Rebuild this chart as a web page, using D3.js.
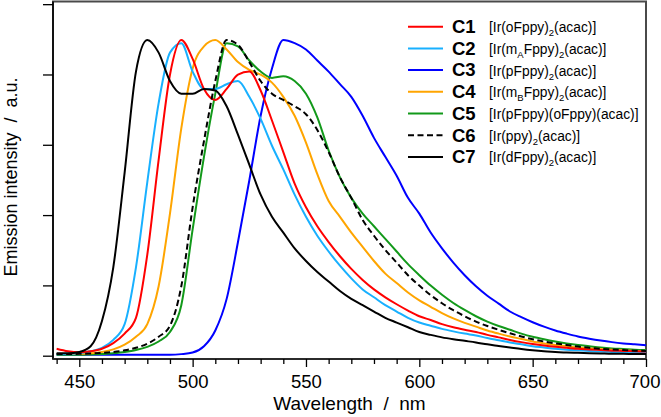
<!DOCTYPE html>
<html lang="en">
<head>
<meta charset="UTF-8">
<title>Emission spectra</title>
<script src="https://d3js.org/d3.v7.min.js"></script>
<style>
  body { margin: 0; background: #fff; }
  svg { display: block; font-family: "Liberation Sans", Arial, sans-serif; }
</style>
</head>
<body>
<svg id="chart" width="661" height="417"></svg>
<script>
// wavelengths (nm) shared by every spectrum
const wavelength = [440, 445, 450, 455, 460, 465, 470, 475, 480, 485, 490, 495, 500, 505, 510, 515, 520, 525, 530, 535,
  540, 545, 550, 555, 560, 565, 570, 575, 580, 585, 590, 595, 600, 605, 610, 615, 620, 625, 630, 635,
  640, 645, 650, 655, 660, 665, 670, 675, 680, 685, 690, 695, 700];

// normalised emission intensity
const c1 = [0.022, 0.014, 0.011, 0.014, 0.022, 0.04, 0.07, 0.12, 0.32, 0.62, 0.89, 1.0, 0.94, 0.845, 0.81, 0.845, 0.89, 0.9, 0.84, 0.745,
  0.645, 0.545, 0.47, 0.41, 0.36, 0.315, 0.275, 0.24, 0.21, 0.185, 0.163, 0.143, 0.125, 0.113, 0.1, 0.09, 0.082, 0.075, 0.066, 0.058,
  0.05, 0.043, 0.037, 0.032, 0.028, 0.025, 0.022, 0.02, 0.018, 0.016, 0.015, 0.014, 0.013];
const c2 = [0.005, 0.006, 0.008, 0.014, 0.025, 0.05, 0.1, 0.28, 0.55, 0.8, 0.96, 0.99, 0.9, 0.845, 0.845, 0.86, 0.87, 0.82, 0.75, 0.665,
  0.59, 0.51, 0.44, 0.38, 0.33, 0.285, 0.245, 0.21, 0.185, 0.16, 0.14, 0.12, 0.105, 0.095, 0.085, 0.077, 0.07, 0.064, 0.056, 0.049,
  0.042, 0.036, 0.03, 0.026, 0.022, 0.019, 0.017, 0.015, 0.013, 0.012, 0.011, 0.01, 0.01];
const c3 = [0.003, 0.003, 0.003, 0.003, 0.003, 0.003, 0.003, 0.003, 0.003, 0.003, 0.003, 0.005, 0.01, 0.03, 0.08, 0.18, 0.36, 0.555, 0.76, 0.91,
  1.0, 0.99, 0.97, 0.935, 0.9, 0.86, 0.82, 0.76, 0.69, 0.63, 0.57, 0.5, 0.45, 0.39, 0.34, 0.295, 0.255, 0.22, 0.19, 0.165,
  0.14, 0.122, 0.106, 0.092, 0.08, 0.07, 0.061, 0.054, 0.048, 0.043, 0.039, 0.036, 0.033];
const c4 = [0.005, 0.005, 0.006, 0.008, 0.012, 0.02, 0.035, 0.06, 0.1, 0.22, 0.45, 0.72, 0.91, 0.98, 1.0, 0.97, 0.93, 0.905, 0.89, 0.865,
  0.82, 0.76, 0.675, 0.575, 0.49, 0.44, 0.39, 0.345, 0.3, 0.26, 0.23, 0.2, 0.175, 0.155, 0.135, 0.118, 0.104, 0.092, 0.08, 0.07,
  0.061, 0.053, 0.045, 0.039, 0.034, 0.03, 0.026, 0.023, 0.021, 0.019, 0.017, 0.015, 0.014];
const c5 = [0.003, 0.003, 0.003, 0.004, 0.005, 0.008, 0.012, 0.018, 0.028, 0.045, 0.075, 0.16, 0.4, 0.63, 0.83, 0.99, 0.98, 0.935, 0.9, 0.88,
  0.885, 0.87, 0.83, 0.755, 0.65, 0.565, 0.5, 0.45, 0.41, 0.37, 0.33, 0.29, 0.255, 0.222, 0.193, 0.167, 0.145, 0.125, 0.108, 0.094,
  0.082, 0.07, 0.06, 0.052, 0.045, 0.039, 0.034, 0.03, 0.026, 0.023, 0.021, 0.019, 0.018];
const c6 = [0.005, 0.005, 0.006, 0.007, 0.009, 0.012, 0.017, 0.025, 0.038, 0.06, 0.095, 0.22, 0.47, 0.68, 0.87, 1.0, 0.985, 0.93, 0.87, 0.83,
  0.81, 0.79, 0.765, 0.715, 0.645, 0.565, 0.5, 0.43, 0.38, 0.335, 0.295, 0.255, 0.222, 0.192, 0.166, 0.144, 0.125, 0.108, 0.094, 0.082,
  0.071, 0.061, 0.052, 0.045, 0.039, 0.034, 0.029, 0.025, 0.022, 0.02, 0.018, 0.016, 0.015];
const c7 = [0.008, 0.008, 0.012, 0.03, 0.11, 0.28, 0.58, 0.9, 1.0, 0.96, 0.87, 0.83, 0.83, 0.845, 0.84, 0.79, 0.7, 0.605, 0.51, 0.44,
  0.39, 0.34, 0.3, 0.265, 0.235, 0.205, 0.18, 0.16, 0.14, 0.12, 0.105, 0.09, 0.075, 0.066, 0.058, 0.052, 0.047, 0.042, 0.036, 0.031,
  0.026, 0.021, 0.017, 0.014, 0.012, 0.01, 0.009, 0.008, 0.007, 0.006, 0.006, 0.005, 0.005];

const seriesNames = ["C1", "C2", "C3", "C4", "C5", "C6", "C7"];
const seriesValues = [c1, c2, c3, c4, c5, c6, c7];
const seriesColors = ["#ff0000", "#18b0ff", "#0000ff", "#ffa500", "#12991a", "#000000", "#000000"];
const seriesDashed = [false, false, false, false, false, true, false];
// formula pieces: [text, subscript?]
const formulas = [
  [["[Ir(oFppy)", 0], ["2", 1], ["(acac)]", 0]],
  [["[Ir(m", 0], ["A", 1], ["Fppy)", 0], ["2", 1], ["(acac)]", 0]],
  [["[Ir(pFppy)", 0], ["2", 1], ["(acac)]", 0]],
  [["[Ir(m", 0], ["B", 1], ["Fppy)", 0], ["2", 1], ["(acac)]", 0]],
  [["[Ir(pFppy)(oFppy)(acac)]", 0]],
  [["[Ir(ppy)", 0], ["2", 1], ["(acac)]", 0]],
  [["[Ir(dFppy)", 0], ["2", 1], ["(acac)]", 0]]
];
const xMajorTicks = [450, 500, 550, 600, 650, 700];
const xMinorTicks = [440, 460, 470, 480, 490, 510, 520, 530, 540, 560, 570, 580, 590,
  610, 620, 630, 640, 660, 670, 680, 690];

const svg = d3.select("#chart");
const plot = { left: 53, right: 646, top: 1.5, bottom: 359 };

const x = d3.scaleLinear().domain([438.4, 700]).range([plot.left, plot.right]);
const y = d3.scaleLinear().domain([0, 1]).range([355.7, 40]);
const yTicks = d3.range(6).map(i => i * 0.2227);

// frame
svg.append("rect")
  .attr("x", plot.left).attr("y", plot.top)
  .attr("width", plot.right - plot.left).attr("height", plot.bottom - plot.top)
  .attr("fill", "none").attr("stroke", "#4a4a4a").attr("stroke-width", 2);
svg.append("line")
  .attr("x1", plot.left).attr("x2", plot.left)
  .attr("y1", plot.top).attr("y2", plot.bottom)
  .attr("stroke", "#000").attr("stroke-width", 1.5);
svg.append("line")
  .attr("x1", plot.left).attr("x2", plot.right)
  .attr("y1", plot.bottom).attr("y2", plot.bottom)
  .attr("stroke", "#222").attr("stroke-width", 1.5);

// y axis (no labels)
svg.append("g")
  .attr("transform", `translate(${plot.left},0)`)
  .call(d3.axisLeft(y).tickValues(yTicks).tickSize(10).tickFormat(""))
  .call(g => g.select(".domain").remove())
  .call(g => g.selectAll("line").attr("stroke", "#000").attr("stroke-width", 1.3));

// x axis: minor + major ticks below the frame
svg.append("g")
  .attr("transform", `translate(0,${plot.bottom})`)
  .call(d3.axisBottom(x).tickValues(xMinorTicks).tickSize(5).tickFormat(""))
  .call(g => g.select(".domain").remove())
  .call(g => g.selectAll("line").attr("stroke", "#000").attr("stroke-width", 1.3));

svg.append("g")
  .attr("transform", `translate(0,${plot.bottom})`)
  .call(d3.axisBottom(x).tickValues(xMajorTicks).tickSize(8).tickFormat(d3.format("d")))
  .call(g => g.select(".domain").remove())
  .call(g => g.selectAll("line").attr("stroke", "#000").attr("stroke-width", 1.3))
  .call(g => g.selectAll("text")
    .attr("y", 29).attr("dy", 0)
    .attr("dx", d => d === 700 ? -1.5 : 0)
    .attr("fill", "#000")
    .style("font-size", "18.5px")
    .style("font-family", "'Liberation Sans', Arial, sans-serif"));

// axis titles
svg.append("text")
  .attr("x", (plot.left + plot.right) / 2).attr("y", 410)
  .attr("text-anchor", "middle")
  .style("font-size", "19px")
  .text("Wavelength\u00a0\u00a0/\u00a0\u00a0nm");

svg.append("text")
  .attr("transform", "translate(16.5,177) rotate(-90)")
  .attr("text-anchor", "middle")
  .style("font-size", "18px")
  .text("Emission intensity\u00a0\u00a0/\u00a0\u00a0a.u.");

// spectra
const line = d3.line()
  .x((d, i) => x(wavelength[i]))
  .y(d => y(d))
  .curve(d3.curveMonotoneX);

const drawOrder = [2, 4, 3, 1, 0, 5, 6];
svg.append("g")
  .selectAll("path")
  .data(drawOrder)
  .join("path")
  .attr("d", k => line(seriesValues[k]))
  .attr("fill", "none")
  .attr("stroke", k => seriesColors[k])
  .attr("stroke-width", 2)
  .attr("stroke-linejoin", "round")
  .attr("stroke-dasharray", k => seriesDashed[k] ? "6,3.5" : null);

// legend
const legend = svg.append("g");
const rowY = i => 26.7 + i * 21.7;

seriesNames.forEach((name, i) => {
  const yy = rowY(i);
  legend.append("line")
    .attr("x1", 408).attr("x2", 443)
    .attr("y1", yy).attr("y2", yy)
    .attr("stroke", seriesColors[i])
    .attr("stroke-width", 2)
    .attr("stroke-dasharray", seriesDashed[i] ? "6,3.5" : null);

  legend.append("text")
    .attr("x", 452).attr("y", yy + 6.3)
    .style("font-size", "18.5px").style("font-weight", "bold")
    .text(name);

  const t = legend.append("text")
    .attr("x", 489).attr("y", yy + 5.5)
    .style("font-size", "13.8px");
  let shift = 0;
  formulas[i].forEach(([txt, sub]) => {
    const target = sub ? 4 : 0;
    t.append("tspan")
      .attr("dy", target - shift)
      .style("font-size", sub ? "9.5px" : null)
      .text(txt);
    shift = target;
  });
});
</script>
</body>
</html>
